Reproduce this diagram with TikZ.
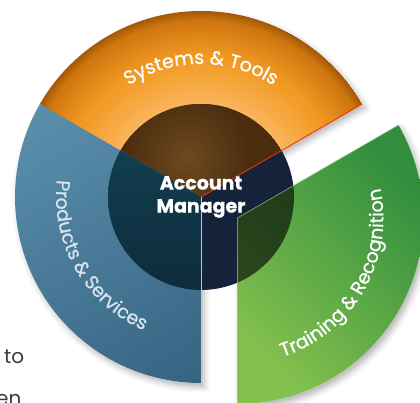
\documentclass[tikz,border=0pt]{standalone}
\usepackage{fontspec}
\setmainfont{Poppins}
\newfontfamily\labelfont[FakeBold=0.7]{Poppins}
\usepackage{tikz}
\usetikzlibrary{calc,decorations.text,shadows.blur}
\definecolor{orangeL}{HTML}{F9B55A}
\definecolor{orangeM}{HTML}{F29A24}
\definecolor{orangeD}{HTML}{D07810}
\definecolor{orangeE}{HTML}{A45806}
\definecolor{blueL}{HTML}{5D93B0}
\definecolor{blueD}{HTML}{33607E}
\definecolor{greenL}{HTML}{84C04E}
\definecolor{greenM}{HTML}{6DB244}
\definecolor{greenD}{HTML}{328E3E}
\definecolor{navy}{HTML}{14223A}
\definecolor{brownL}{HTML}{6E4A20}
\definecolor{brownD}{HTML}{4A2C0E}
\definecolor{tealL}{HTML}{124452}
\definecolor{tealD}{HTML}{0E2C3E}
\definecolor{bgtext}{HTML}{3A3A3A}
\newcommand{\arcfont}{\labelfont\fontsize{19}{19}\selectfont}

\begin{document}
\begin{tikzpicture}[
    x=1pt, y=1pt,
    sector/.style={fill=white, blur shadow={shadow xshift=3pt, shadow yshift=-4pt,
                   shadow blur radius=6pt, shadow opacity=30}},
    arclabel/.style={decorate, decoration={text along path, text align=center,
                   text color=#1}},
    centre/.style={font=\labelfont\bfseries\fontsize{19}{23}\selectfont,
                   text=white, align=center},
    bgword/.style={font=\fontsize{20}{20}\selectfont, text=bgtext,
                   anchor=base west, inner sep=0pt}
]
\useasboundingbox (0,0) rectangle (420,402);
\coordinate (C) at (201,205);
\coordinate (G) at ($(C)+(-30:42)$);

% page text peeking out
\node[bgword] (w1) at (4,39) {to};
\node[bgword] (w2) at (-4,-3) {en};

% shadows
\path[sector] (C) -- ($(C)+(30:186)$) arc[start angle=30, end angle=270, radius=186] -- cycle;
\path[sector] (G) -- ($(G)+(-90:186)$) arc[start angle=-90, end angle=30, radius=186] -- cycle;

% Systems & Tools
\begin{scope}
  \clip (C) -- ($(C)+(30:186)$) arc[start angle=30, end angle=150, radius=186] -- cycle;
  \foreach \r in {186,185,...,176}{
    \pgfmathsetmacro{\p}{(\r-176)*10}
    \fill[orangeE!\p!orangeD] (C) circle[radius=\r];
  }
  \foreach \r in {175,173,...,141}{
    \pgfmathsetmacro{\p}{(\r-141)/34*100}
    \fill[orangeD!\p!orangeM] (C) circle[radius=\r];
  }
  \foreach \r in {139,137,...,95}{
    \pgfmathsetmacro{\p}{(\r-95)/44*100}
    \fill[orangeM!\p!orangeL] (C) circle[radius=\r];
  }
  % hub part
  \clip (C) circle[radius=93];
  \fill[brownD] (C) circle[radius=93];
  \shade[inner color=brownL, outer color=brownD] ($(C)+(-14,40)$) circle[radius=64];
\end{scope}

% Products & Services
\begin{scope}
  \clip (C) -- ($(C)+(150:186)$) arc[start angle=150, end angle=270, radius=186] -- cycle;
  \shade[top color=blueL, bottom color=blueD, shading angle=30] (C) circle[radius=186];
  \shade[top color=tealL, bottom color=tealD] (C) circle[radius=93];
\end{scope}

% empty quarter of the hub
\fill[navy] (C) -- ($(C)+(-90:93)$) arc[start angle=-90, end angle=30, radius=93] -- cycle;

\draw[red!60!orange, line width=0.8pt] (C) -- ($(C)+(30:186)$);
\draw[cyan!45!white, line width=0.7pt] (C) -- ($(C)+(270:186)$);

% Training & Recognition
\begin{scope}
  \clip (G) -- ($(G)+(-90:186)$) arc[start angle=-90, end angle=30, radius=186] -- cycle;
  \shade[top color=greenD, middle color=greenM, bottom color=greenL, shading angle=-45]
    ($(G)+(0,-186)$) rectangle ($(G)+(186,93)$);
  \fill[black, opacity=0.62] (C) circle[radius=93];
\end{scope}
\draw[greenL!60!white, opacity=0.7, line width=0.6pt]
  ($(G)+(-90:186)$) -- (G) -- ($(G)+(30:186)$);

\node[centre] (am) at (C) {Account\\Manager};

% curved labels
\path[arclabel=white, decoration={text={|\arcfont|Systems {\&} Tools}}]
  ($(C)+(150:133)$) arc[start angle=150, end angle=30, radius=133];
\path[arclabel=blueL!25!white, decoration={text={|\arcfont|Products {\&} Services}}]
  ($(C)+(150:145)$) arc[start angle=150, end angle=270, radius=145];
\path[arclabel=white, decoration={text={|\arcfont|Training {\&} Recognition}}]
  ($(G)+(-90:146)$) arc[start angle=-90, end angle=30, radius=146];
\end{tikzpicture}
\end{document}
